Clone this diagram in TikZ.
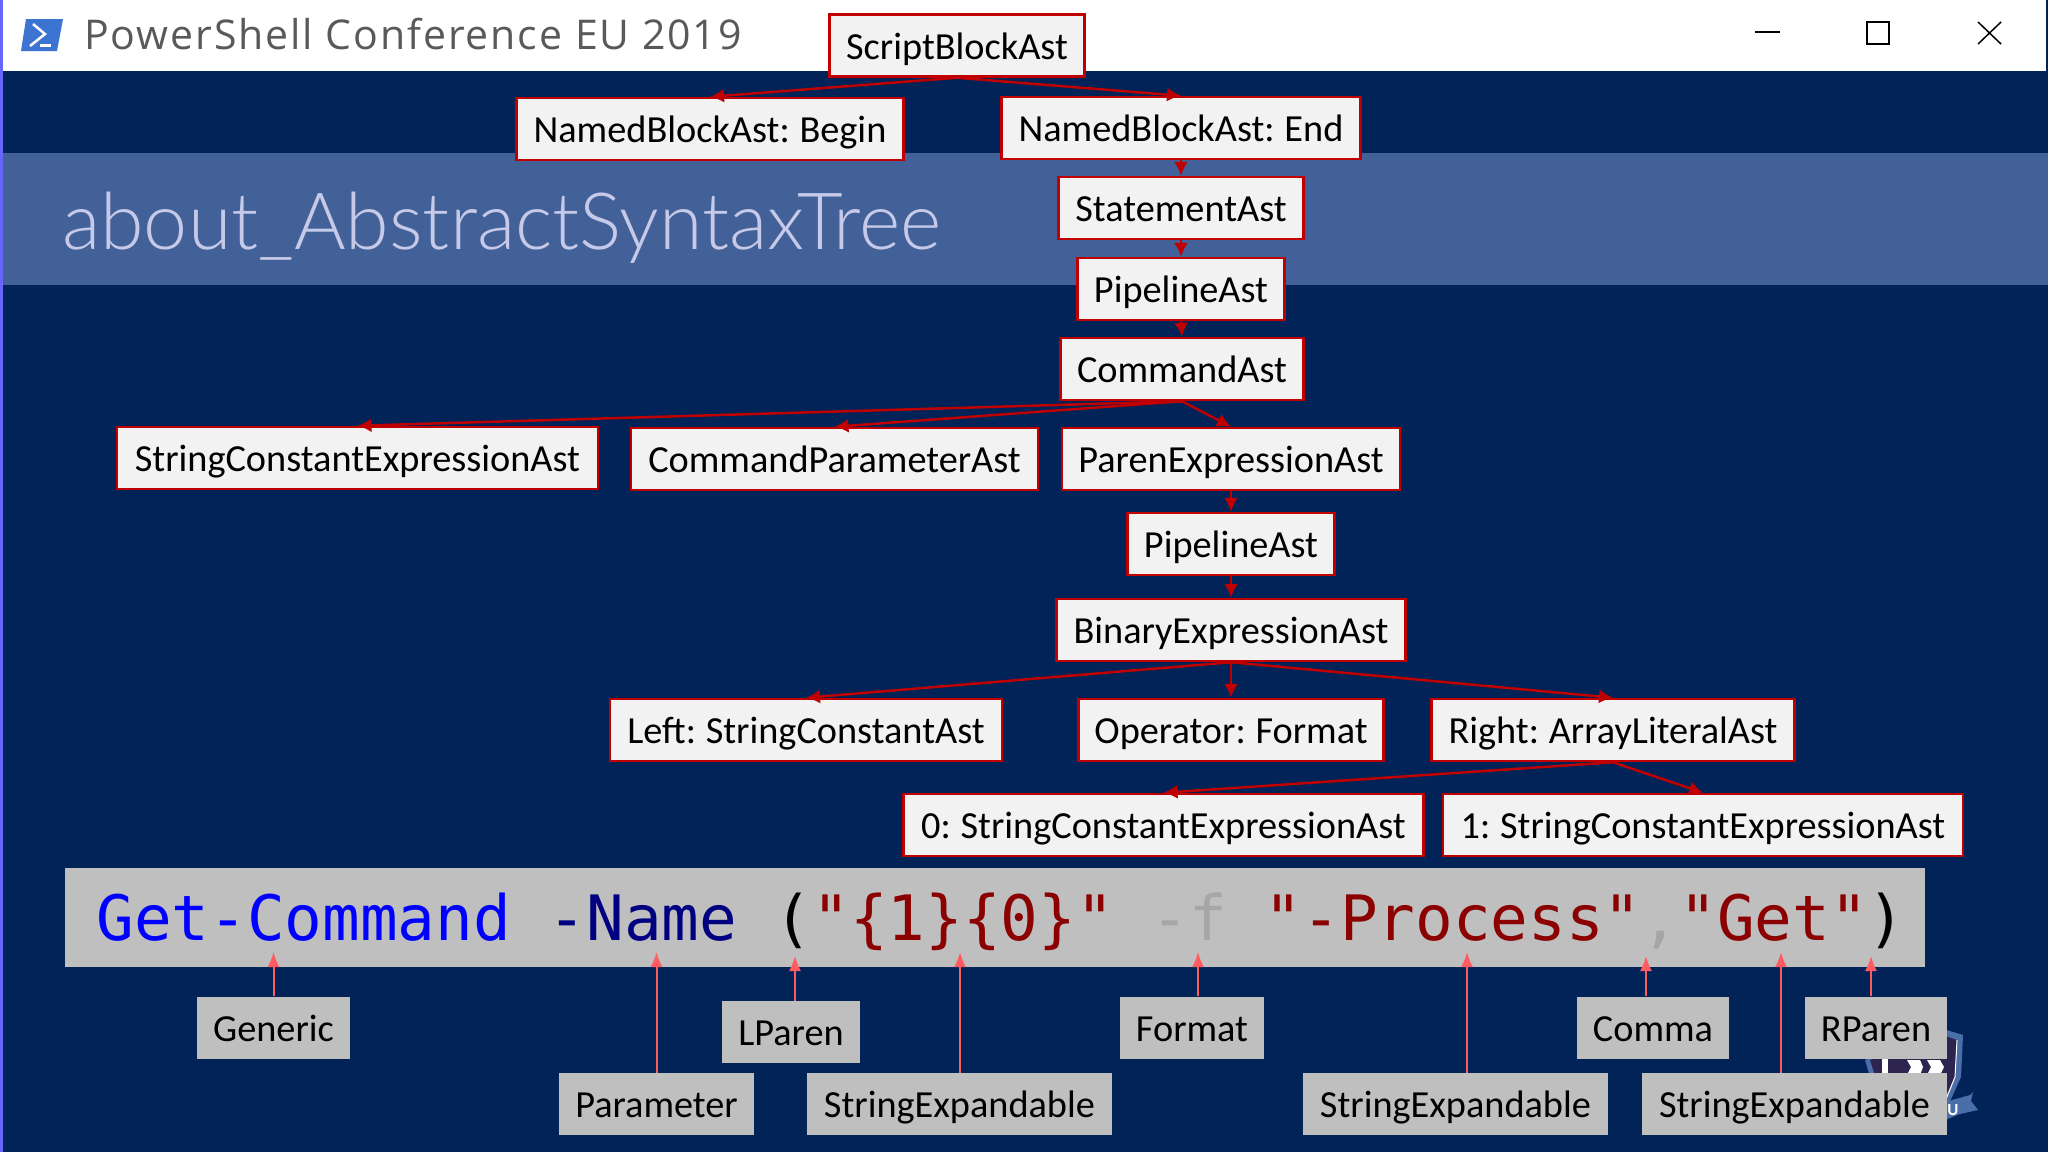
\documentclass[tikz,border=0pt]{standalone}
\usepackage{fontspec}
\setmainfont[WordSpace=0.8]{Carlito}
\setmonofont{DejaVu Sans Mono}
\newfontfamily\barfont[LetterSpace=4.7]{Open Sans}
\newfontfamily\slidefont{Lato Light}
\usetikzlibrary{arrows.meta}
\definecolor{navybg}{HTML}{012358}
\definecolor{bandbg}{HTML}{436199}
\definecolor{astred}{HTML}{C00000}
\definecolor{tokred}{HTML}{FF5B60}
\definecolor{tokgrey}{HTML}{BFBFBF}
\definecolor{stringred}{HTML}{8B0000}
\definecolor{shieldbg}{HTML}{2D2550}
\definecolor{shieldrim}{HTML}{4A6EA8}
\definecolor{iconblue}{HTML}{3C74D2}
\definecolor{slidetext}{HTML}{C6CAE8}
\tikzset{
  ast/.style={draw=astred,line width=2.5pt,fill=black!5,inner sep=0pt,text height=27pt,text depth=0pt,minimum height=62pt,font=\fontsize{38.3}{38.3}\selectfont},
  tok/.style={fill=tokgrey,inner sep=0pt,text height=27pt,text depth=0pt,minimum height=62pt,font=\fontsize{38.3}{38.3}\selectfont},
  astline/.style={draw=astred,line width=2.5pt,-{Latex[length=14pt,width=14pt]}},
  tokline/.style={draw=tokred,line width=2pt,-{Latex[length=15pt,width=12pt]}},
}
\begin{document}
\begin{tikzpicture}[x=1pt,y=-1pt]
\useasboundingbox (0,0) rectangle (2048,1152);
% window and slide
\fill[navybg] (0,0) rectangle (2048,1152);
\fill[bandbg] (0,153) rectangle (2048,285);
\fill[white] (0,0) rectangle (2046,71);
\fill[blue!60!white] (0,0) rectangle (2.5,1152);
% title bar
\fill[iconblue] (26,19) -- (63,19) -- (57,51) -- (21,51) -- cycle;
\draw[white,line width=2.5pt] (33,24) -- (45,34) -- (30,46);
\draw[white,line width=2.5pt] (40,45.5) -- (51,45.5);
\node (wintitle) [anchor=west,inner sep=0pt,text=black!65,font=\barfont\fontsize{41}{41}\selectfont] at (84,34) {PowerShell Conference EU 2019};
\draw[black,line width=2pt] (1755,32) -- (1780,32);
\draw[black,line width=2pt] (1867,22) rectangle (1889,44);
\draw[black,line width=1.5pt] (1978,22) -- (2001,44) (2001,22) -- (1978,44);
\node (slidetitle) [anchor=west,inner sep=0pt,text=slidetext,font=\slidefont\fontsize{79}{79}\selectfont] at (62,228) {about\_AbstractSyntaxTree};
% logo behind the boxes
\fill[shieldrim] (1940,1028) -- (1963,1035) -- (1961,1077) -- (1946,1110) -- (1880,1110) -- (1865,1060) -- cycle;
\fill[shieldbg] (1940,1034) -- (1957,1040) -- (1955,1077) -- (1942,1104) -- (1884,1104) -- (1870,1060) -- cycle;
\draw[white,line width=1pt] (1957,1040) -- (1955,1077) -- (1944,1104);
\fill[white] (1882,1058) rectangle (1888,1075);
\fill[white] (1907,1060) -- (1920,1060) -- (1923,1067) -- (1920,1075) -- (1907,1075) -- (1911,1067) -- cycle;
\fill[white] (1927,1060) -- (1940,1060) -- (1944,1067) -- (1940,1075) -- (1927,1075) -- (1931,1067) -- cycle;
\fill[shieldrim] (1945,1102) -- (1970,1095) -- (1973,1092) -- (1971,1101) -- (1978,1110) -- (1960,1114) -- (1945,1120) -- cycle;
\node (ribbon) [inner sep=0pt,text=white,font=\bfseries\fontsize{17}{17}\selectfont] at (1953,1110) {U};
% code line
\node (code) [fill=tokgrey,minimum width=1860pt,minimum height=99pt,inner sep=0pt,text height=45pt,text depth=0pt,font=\ttfamily\fontsize{62.6}{62.6}\selectfont] at (995,917.5) {\hspace*{12pt}\textcolor{blue}{Get-Command} \textcolor{blue!50!black}{-Name} (\textcolor{stringred}{"\{1\}\{0\}"} \textcolor{black!35}{-f} \textcolor{stringred}{"-Process"}\textcolor{black!35}{,}\textcolor{stringred}{"Get"})};
% tree
\node (script) [ast,minimum width=255pt] at (957,45.5) {ScriptBlockAst};
\node (begin) [ast,minimum width=387pt] at (710,129) {NamedBlockAst: Begin};
\node (end) [ast,minimum width=359pt] at (1181,128) {NamedBlockAst: End};
\node (statement) [ast,minimum width=245pt] at (1181,208) {StatementAst};
\node (pipeline) [ast,minimum width=207pt] at (1181,289) {PipelineAst};
\node (command) [ast,minimum width=243pt] at (1182,369) {CommandAst};
\node (stringconst) [ast,minimum width=481pt] at (357.5,458) {StringConstantExpressionAst};
\node (cmdparam) [ast,minimum width=407pt] at (834.5,459) {CommandParameterAst};
\node (paren) [ast,minimum width=338pt] at (1231,459) {ParenExpressionAst};
\node (innerpipe) [ast,minimum width=207pt] at (1231,544) {PipelineAst};
\node (binary) [ast,minimum width=349pt] at (1231,630) {BinaryExpressionAst};
\node (left) [ast,minimum width=392pt] at (806,730) {Left: StringConstantAst};
\node (operator) [ast,minimum width=305pt] at (1231,730) {Operator: Format};
\node (right) [ast,minimum width=363pt] at (1613,730) {Right: ArrayLiteralAst};
\node (elemzero) [ast,minimum width=520pt] at (1163.5,825) {0: StringConstantExpressionAst};
\node (elemone) [ast,minimum width=520pt] at (1703,825) {1: StringConstantExpressionAst};
\draw [astline] (script.south) -- (begin.north);
\draw [astline] (script.south) -- (end.north);
\draw [astline] (end.south) -- (statement.north);
\draw [astline] (statement.south) -- (pipeline.north);
\draw [astline] (pipeline.south) -- (command.north);
\draw [astline] (command.south) -- (stringconst.north);
\draw [astline] (command.south) -- (cmdparam.north);
\draw [astline] (command.south) -- (paren.north);
\draw [astline] (paren.south) -- (innerpipe.north);
\draw [astline] (innerpipe.south) -- (binary.north);
\draw [astline] (binary.south) -- (left.north);
\draw [astline] (binary.south) -- (operator.north);
\draw [astline] (binary.south) -- (right.north);
\draw [astline] (right.south) -- (elemzero.north);
\draw [astline] (right.south) -- (elemone.north);
% tokens
\node (generic) [tok,minimum width=153pt] at (273.5,1027.5) {Generic};
\node (lparen) [tok,minimum width=138pt] at (791,1032) {LParen};
\node (parameter) [tok,minimum width=195pt] at (656.5,1104) {Parameter};
\node (expandone) [tok,minimum width=305pt] at (959.5,1104) {StringExpandable};
\node (format) [tok,minimum width=144pt] at (1192,1027.5) {Format};
\node (expandtwo) [tok,minimum width=305pt] at (1455.5,1104) {StringExpandable};
\node (comma) [tok,minimum width=152pt] at (1653,1027.5) {Comma};
\node (rparen) [tok,minimum width=142pt] at (1876,1027.5) {RParen};
\node (expandthree) [tok,minimum width=305pt] at (1794.5,1104) {StringExpandable};
\coordinate (genericend) at (273.5,952);
\coordinate (parameterend) at (656.5,952);
\coordinate (lparenend) at (795,956);
\coordinate (expandoneend) at (960,952);
\coordinate (formatend) at (1198,952);
\coordinate (expandtwoend) at (1467,952);
\coordinate (commaend) at (1646,956);
\coordinate (expandthreeend) at (1781,952);
\coordinate (rparenend) at (1871,956);
\draw [tokline] (generic.north) -- (genericend);
\draw [tokline] (parameter.north) -- (parameterend);
\draw [tokline] (lparen.north -| lparenend) -- (lparenend);
\draw [tokline] (expandone.north -| expandoneend) -- (expandoneend);
\draw [tokline] (format.north -| formatend) -- (formatend);
\draw [tokline] (expandtwo.north -| expandtwoend) -- (expandtwoend);
\draw [tokline] (comma.north -| commaend) -- (commaend);
\draw [tokline] (expandthree.north -| expandthreeend) -- (expandthreeend);
\draw [tokline] (rparen.north -| rparenend) -- (rparenend);
\end{tikzpicture}
\end{document}
